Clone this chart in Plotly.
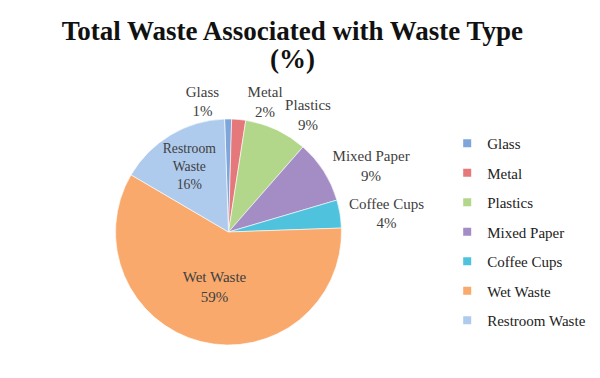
import plotly.graph_objects as go

categories = ["Glass", "Metal", "Plastics", "Mixed Paper", "Coffee Cups", "Wet Waste", "Restroom Waste"]
values = [1, 2, 9, 9, 4, 59, 16]
slice_text = ["Glass", "Metal", "Plastics", "Mixed Paper", "Coffee Cups", "Wet Waste", "Restroom<br>Waste"]
colors = ["#7ea6da", "#e4787a", "#b3d78a", "#a48cc4", "#4fc3dd", "#f9a96c", "#aecbee"]
# main pie labels / separate overlay labels for the two tiny slices
main_positions = ["none", "none", "outside", "outside", "outside", "inside", "inside"]
small_positions = ["outside", "outside", "none", "none", "none", "none", "none"]

FONT = "Liberation Serif"
DOMAIN = dict(x=[0.1783, 0.5567], y=[0.1085, 0.7063])
ROT = -2

fig = go.Figure()
fig.add_trace(go.Pie(
    labels=categories,
    values=values,
    text=slice_text,
    sort=False,
    direction="clockwise",
    rotation=ROT,
    marker=dict(colors=colors, line=dict(color="#ffffff", width=0.6)),
    texttemplate="%{text}<br>%{percent:.0%}",
    textposition=main_positions,
    textfont=dict(family=FONT, size=15, color="#404040"),
    insidetextorientation="horizontal",
    hoverinfo="label+percent",
    showlegend=False,
    domain=DOMAIN,
))
# transparent overlay pie that only carries the Glass / Metal labels
fig.add_trace(go.Pie(
    labels=categories,
    values=values,
    text=slice_text,
    sort=False,
    direction="clockwise",
    rotation=ROT,
    marker=dict(colors=["rgba(0,0,0,0)"] * len(categories), line=dict(width=0)),
    texttemplate="%{text}<br>%{percent:.0%}",
    textposition=small_positions,
    textfont=dict(family=FONT, size=15, color="#404040"),
    hoverinfo="skip",
    showlegend=False,
    domain=DOMAIN,
))

# legend entries (one per category)
for name, col in zip(categories, colors):
    fig.add_trace(go.Scatter(
        x=[None], y=[None], mode="markers", name=name,
        legendgroup=name,
        marker=dict(symbol="square", size=8, color=col),
        hoverinfo="skip",
    ))

fig.update_xaxes(visible=False)
fig.update_yaxes(visible=False)

fig.update_layout(
    width=600, height=378,
    margin=dict(l=0, r=0, t=0, b=0),
    paper_bgcolor="white",
    plot_bgcolor="white",
    title=dict(
        text="<b>Total Waste Associated with Waste Type</b>",
        x=0.474, xanchor="center", y=1 - 23 / 378, yanchor="middle",
        font=dict(family=FONT, size=27, color="#111111"),
    ),
    annotations=[dict(
        text="<b>(%)</b>", xref="paper", yref="paper",
        x=0.474, y=1 - 51 / 378, xanchor="center", yanchor="middle",
        showarrow=False, font=dict(family=FONT, size=27, color="#111111"),
    )],
    legend=dict(
        x=0.732, xanchor="left", y=1 - 224 / 378, yanchor="middle",
        font=dict(family=FONT, size=15, color="#222222"),
        itemwidth=30, tracegroupgap=7,
        bgcolor="rgba(0,0,0,0)",
    ),
)

fig.write_html("out.html")
